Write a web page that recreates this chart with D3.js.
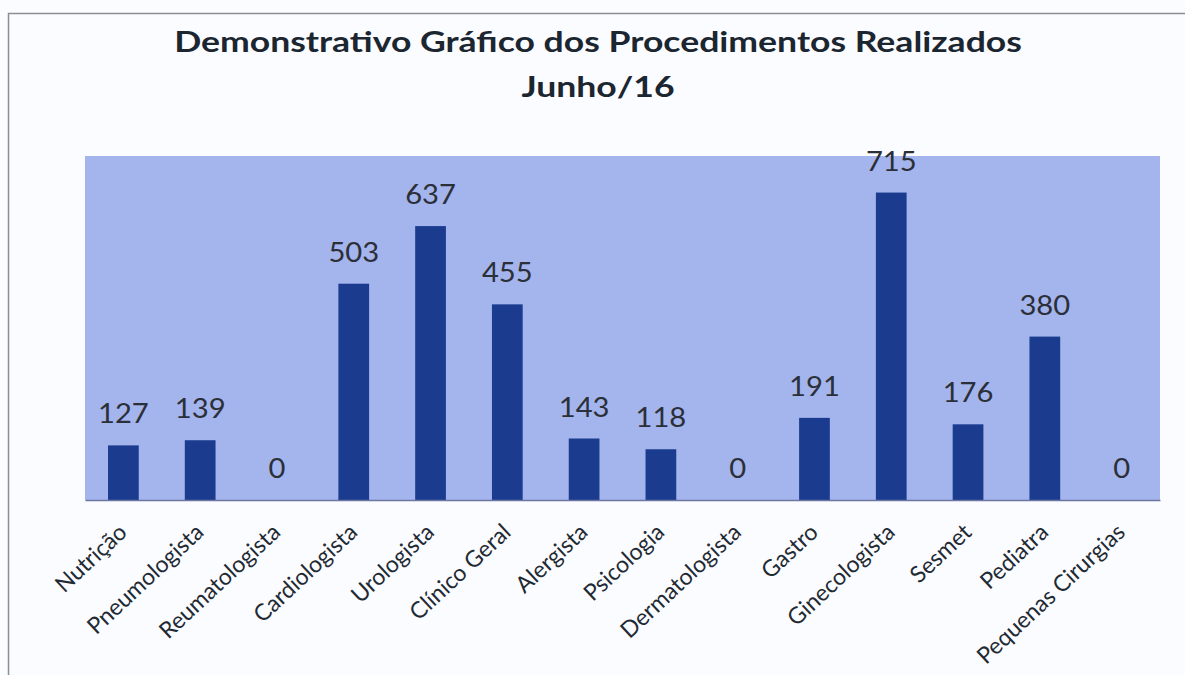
<!DOCTYPE html>
<html>
<head>
<meta charset="utf-8">
<script src="https://cdn.jsdelivr.net/npm/d3@7"></script>
<style>
  html, body { margin: 0; padding: 0; background: #fbfcff; }
  svg { display: block; }
</style>
</head>
<body>
<svg id="chart" width="1185" height="675"></svg>
<script>
// Procedimentos realizados por especialidade — Junho/16
const categories = [
  "Nutrição", "Pneumologista", "Reumatologista", "Cardiologista", "Urologista",
  "Clínico Geral", "Alergista", "Psicologia", "Dermatologista", "Gastro",
  "Ginecologista", "Sesmet", "Pediatra", "Pequenas Cirurgias"
];
const values = [127, 139, 0, 503, 637, 455, 143, 118, 0, 191, 715, 176, 380, 0];
const titleLines = ["Demonstrativo Gráfico dos Procedimentos Realizados", "Junho/16"];
const yDomain = [0, 800];

const svg = d3.select("#chart");
const plot = { left: 85, right: 1160, top: 156, bottom: 500 };
const font = "Lato, 'Open Sans', sans-serif";

// outer frame
svg.append("rect")
  .attr("x", 8.5).attr("y", 13.5)
  .attr("width", 1240).attr("height", 720)
  .attr("fill", "none").attr("stroke", "#8a8d94").attr("stroke-width", 1.5);

// title, widened horizontally
const titleCx = 598;
svg.append("g")
  .attr("transform", `translate(${titleCx},0) scale(1.27,1)`)
  .selectAll("text").data(titleLines).join("text")
  .attr("x", 0)
  .attr("y", (d, i) => 52 + i * 45)
  .attr("text-anchor", "middle")
  .attr("font-family", font)
  .attr("font-weight", 700)
  .attr("font-size", 28)
  .attr("fill", "#1c2630")
  .text(d => d);

const x = d3.scaleBand()
  .domain(categories)
  .range([plot.left, plot.right])
  .paddingInner(0.6)
  .paddingOuter(0.3);

const y = d3.scaleLinear().domain(yDomain).range([plot.bottom, plot.top]);

// plot area
svg.append("rect")
  .attr("x", plot.left).attr("y", plot.top)
  .attr("width", plot.right - plot.left).attr("height", plot.bottom - plot.top)
  .attr("fill", "#a4b4ec");

// bars
svg.append("g").selectAll("rect").data(values).join("rect")
  .attr("x", (d, i) => x(categories[i]))
  .attr("y", d => y(d))
  .attr("width", x.bandwidth())
  .attr("height", d => y(0) - y(d))
  .attr("fill", "#1a3b8e");

// value labels
svg.append("g").selectAll("text").data(values).join("text")
  .attr("transform", (d, i) =>
    `translate(${x(categories[i]) + x.bandwidth() / 2},${y(d) - 22}) scale(1.08,1)`)
  .attr("text-anchor", "middle")
  .attr("font-family", font)
  .attr("font-size", 27)
  .attr("fill", "#2b2f38")
  .text(d => d);

// category axis
const axis = svg.append("g")
  .attr("transform", `translate(0,${plot.bottom})`)
  .call(d3.axisBottom(x).tickSize(0).tickPadding(0));
axis.select(".domain").attr("stroke", "#6d76a0").attr("stroke-width", 1.5);
axis.selectAll(".tick text")
  .attr("font-family", font)
  .attr("font-size", 23)
  .attr("fill", "#1f2a33")
  .attr("text-anchor", "end")
  .attr("dy", 0)
  .attr("transform", "translate(5,34) rotate(-43)");
</script>
</body>
</html>
